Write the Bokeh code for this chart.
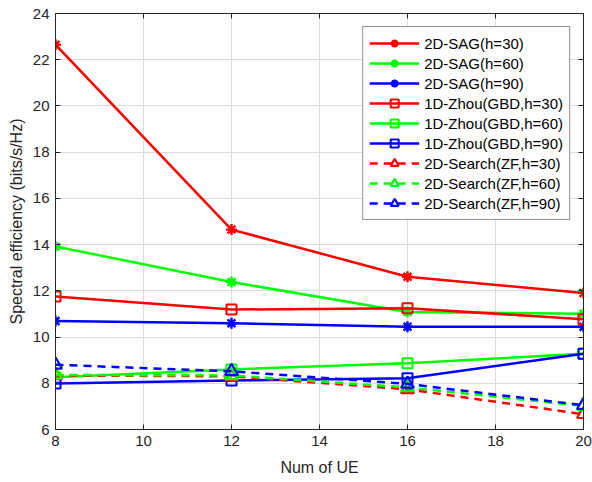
from bokeh.plotting import figure
from bokeh.models import LinearAxis, Legend, LegendItem, FixedTicker, Range1d
from bokeh.embed import file_html
from bokeh.resources import INLINE

x_ue = [8, 12, 16, 20]
sag_30 = [22.65, 14.65, 12.61, 11.91]
sag_60 = [13.92, 12.38, 11.08, 11.01]
sag_90 = [10.69, 10.60, 10.45, 10.45]
zhou_30 = [11.76, 11.19, 11.25, 10.77]
zhou_60 = [8.26, 8.60, 8.87, 9.28]
zhou_90 = [7.99, 8.12, 8.22, 9.28]
search_30 = [8.34, 8.30, 7.74, 6.66]
search_60 = [8.36, 8.34, 7.82, 7.02]
search_90 = [8.80, 8.52, 7.97, 7.05]

x_ticks = [8, 10, 12, 14, 16, 18, 20]
y_ticks = [6, 8, 10, 12, 14, 16, 18, 20, 22, 24]

FONT = "Liberation Sans"
TXT = "#262626"

p = figure(width=592, height=482, output_backend="svg", toolbar_location=None,
           x_range=Range1d(8, 20), y_range=Range1d(6, 24),
           min_border_left=55, min_border_right=9, min_border_top=13, min_border_bottom=53)
p.outline_line_color = None
p.background_fill_color = "white"

for ax in (p.xaxis[0], p.yaxis[0]):
    ax.major_label_text_font = FONT
    ax.major_label_text_font_size = "15px"
    ax.major_label_text_color = TXT
    ax.axis_label_text_font = FONT
    ax.axis_label_text_font_size = "16px"
    ax.axis_label_text_font_style = "normal"
    ax.axis_label_text_color = TXT
    ax.axis_line_color = TXT
    ax.major_tick_line_color = TXT
    ax.major_tick_in = 5
    ax.major_tick_out = 0
    ax.minor_tick_line_color = None
    ax.axis_line_width = 1

p.xaxis[0].ticker = FixedTicker(ticks=x_ticks)
p.yaxis[0].ticker = FixedTicker(ticks=y_ticks)
p.xaxis[0].axis_label = "Num of UE"
p.yaxis[0].axis_label = "Spectral efficiency (bits/s/Hz)"
p.xaxis[0].major_label_standoff = 6
p.yaxis[0].major_label_standoff = 6
p.xaxis[0].axis_label_standoff = 10
p.yaxis[0].axis_label_standoff = 5

top = LinearAxis(ticker=FixedTicker(ticks=x_ticks),
                 major_label_overrides={t: "" for t in x_ticks},
                 axis_line_color=TXT, major_tick_line_color=TXT, major_tick_in=5,
                 major_tick_out=0, minor_tick_line_color=None)
right = LinearAxis(ticker=FixedTicker(ticks=y_ticks),
                   major_label_overrides={t: "" for t in y_ticks},
                   axis_line_color=TXT, major_tick_line_color=TXT, major_tick_in=5,
                   major_tick_out=0, minor_tick_line_color=None)
p.add_layout(top, "above")
p.add_layout(right, "right")

p.xgrid.ticker = FixedTicker(ticks=x_ticks)
p.ygrid.ticker = FixedTicker(ticks=y_ticks)
p.grid.grid_line_color = "#dcdcdc"
p.grid.grid_line_width = 1

RED, GREEN, BLUE = "#ff0000", "#00ff00", "#0000ff"
LW = 2.5

series = [
    ("2D-SAG(h=30)", sag_30, RED, "solid", "asterisk"),
    ("2D-SAG(h=60)", sag_60, GREEN, "solid", "asterisk"),
    ("2D-SAG(h=90)", sag_90, BLUE, "solid", "asterisk"),
    ("1D-Zhou(GBD,h=30)", zhou_30, RED, "solid", "square"),
    ("1D-Zhou(GBD,h=60)", zhou_60, GREEN, "solid", "square"),
    ("1D-Zhou(GBD,h=90)", zhou_90, BLUE, "solid", "square"),
    ("2D-Search(ZF,h=30)", search_30, RED, "8 6", "triangle"),
    ("2D-Search(ZF,h=60)", search_60, GREEN, "8 6", "triangle"),
    ("2D-Search(ZF,h=90)", search_90, BLUE, "8 6", "triangle"),
]

items = []
for label, ys, col, dash, mk in series:
    r1 = p.line(x_ue, ys, line_color=col, line_width=LW, line_dash=dash)
    if mk == "asterisk":
        r2 = p.scatter(x_ue, ys, marker="asterisk", size=11, line_color=col, line_width=2.4)
    elif mk == "square":
        r2 = p.scatter(x_ue, ys, marker="square", size=10, line_color=col, line_width=2,
                       fill_color=None)
    else:
        r2 = p.scatter(x_ue, ys, marker="triangle", size=13, line_color=col, line_width=2.2,
                       fill_color=None)
    items.append(LegendItem(label=label, renderers=[r1, r2]))

legend = Legend(items=items, location="top_right")
legend.label_text_font = FONT
legend.label_text_font_size = "15px"
legend.label_text_color = "black"
legend.glyph_width = 50
legend.glyph_height = 20
legend.label_height = 20
legend.label_standoff = 5
legend.spacing = 0
legend.padding = 6
legend.margin = 13
legend.border_line_color = TXT
legend.border_line_width = 1
legend.background_fill_color = "white"
legend.background_fill_alpha = 1
p.add_layout(legend, "center")

open("out.html", "w").write(file_html(p, INLINE))
